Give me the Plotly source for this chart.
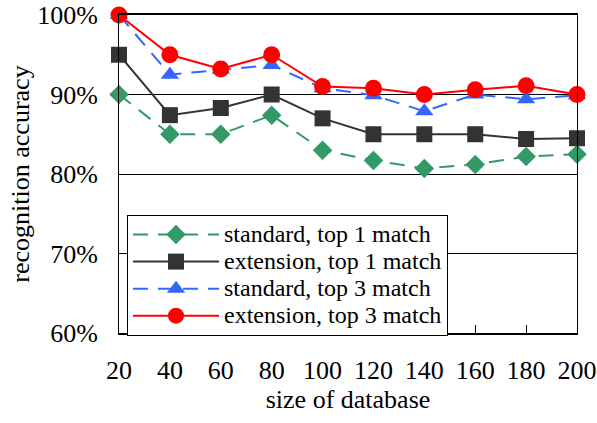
import plotly.graph_objects as go

sizes = [20, 40, 60, 80, 100, 120, 140, 160, 180, 200]
std_top1 = [0.900, 0.850, 0.850, 0.874, 0.830, 0.817, 0.807, 0.812, 0.822, 0.825]
ext_top1 = [0.950, 0.874, 0.883, 0.900, 0.870, 0.850, 0.850, 0.850, 0.844, 0.845]
std_top3 = [1.000, 0.925, 0.931, 0.937, 0.908, 0.899, 0.879, 0.900, 0.894, 0.899]
ext_top3 = [1.000, 0.950, 0.932, 0.950, 0.910, 0.908, 0.900, 0.906, 0.911, 0.900]
names = ["standard, top 1 match", "extension, top 1 match",
         "standard, top 3 match", "extension, top 3 match"]
y_ticks = [0.6, 0.7, 0.8, 0.9, 1.0]
y_ticktext = ["60%", "70%", "80%", "90%", "100%"]

series = [
    (std_top1, "#339966", "dash", "diamond", 15),
    (ext_top1, "#333333", "solid", "square", 16),
    (std_top3, "#3366FF", "dash", "triangle-up", 16),
    (ext_top3, "#FF0000", "solid", "circle", 17),
]

fig = go.Figure()
for (vals, color, dash, sym, ms), name in zip(series, names):
    fig.add_trace(go.Scatter(
        x=sizes, y=vals, name='<span style="font-size:24px">' + name + '</span>',
        mode="lines+markers",
        line=dict(color=color, width=2, dash="15px,10px" if dash == "dash" else "solid"),
        marker=dict(symbol=sym, size=ms, color=color, line=dict(width=0)),
        cliponaxis=False,
    ))

font = "Liberation Serif"
fig.update_layout(
    width=597, height=423,
    margin=dict(l=119, r=20, t=15, b=90, autoexpand=False),
    paper_bgcolor="white", plot_bgcolor="white",
    font=dict(family=font, size=26, color="black"),
    showlegend=True,
    legend=dict(
        x=0.0175, y=0.371, xanchor="left", yanchor="top",
        bgcolor="white", bordercolor="black", borderwidth=1,
        font=dict(family=font, size=18.5, color="black"),
        itemwidth=86, tracegroupgap=0,
    ),
    xaxis=dict(
        range=[20, 200], tickvals=sizes, ticks="inside", ticklen=8,
        tickcolor="black", showline=True, linecolor="black", linewidth=2,
        mirror=True, showgrid=False, zeroline=False, automargin=True,
        ticklabelstandoff=13,
        title=dict(text="size of database", standoff=4,
                   font=dict(family=font, size=26)),
    ),
    yaxis=dict(
        range=[0.6, 1.0], tickvals=y_ticks, ticktext=y_ticktext,
        ticks="", showline=True, linecolor="black", linewidth=1,
        mirror=True, showgrid=True, gridcolor="black", gridwidth=1,
        zeroline=False, automargin=True, ticklabelstandoff=15,
        title=dict(text="recognition accuracy", standoff=0,
                   font=dict(family=font, size=26)),
    ),
)
fig.write_html("out.html")
